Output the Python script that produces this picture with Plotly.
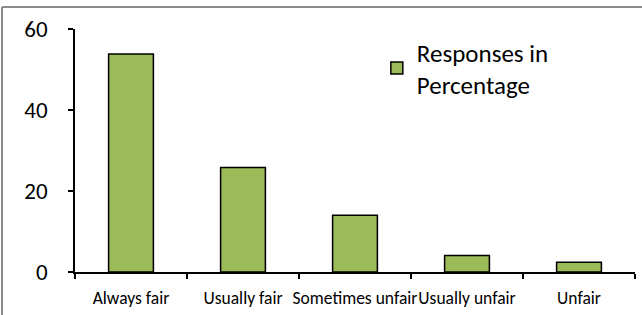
import plotly.graph_objects as go

categories = ["Always fair", "Usually fair", "Sometimes unfair", "Usually unfair", "Unfair"]
values = [53.8, 25.8, 14.0, 4.1, 2.4]
series_name = "Responses in<br>Percentage"
y_ticks = [0, 20, 40, 60]

FONT = "Calibri, Carlito, Lato, sans-serif"

fig = go.Figure()
fig.add_trace(go.Bar(
    x=categories, y=values, name=series_name,
    marker=dict(color="#9BBB59", line=dict(color="black", width=1.5)),
    showlegend=True,
))

fig.update_layout(
    width=642, height=315,
    margin=dict(l=75, r=7, t=29, b=43, autoexpand=False),
    paper_bgcolor="white", plot_bgcolor="white",
    bargap=0.6,
    font=dict(family=FONT, color="black"),
    showlegend=True,
    legend=dict(x=0.539, y=1.0, xanchor="left", yanchor="top",
                font=dict(size=25, family=FONT), bgcolor="rgba(0,0,0,0)",
                itemwidth=30, tracegroupgap=0),
    xaxis=dict(
        type="category", showline=True, linecolor="black", linewidth=1.5,
        ticks="outside", tickson="boundaries", ticklen=5, tickcolor="black",
        tickwidth=1.5, tickangle=0, tickfont=dict(size=17.5, family=FONT),
        showgrid=False, zeroline=False, automargin=False, ticklabelstandoff=9,
    ),
    yaxis=dict(
        range=[0, 60], tickvals=y_ticks, showline=True, linecolor="black",
        linewidth=1.5, ticks="outside", ticklen=5, tickcolor="black", tickwidth=1.5,
        tickfont=dict(size=23, family=FONT), showgrid=False, zeroline=False,
        ticklabelstandoff=16, automargin=False,
    ),
    shapes=[
        dict(type="line", xref="paper", yref="paper",
             x0=(2 - 75) / 560, x1=1.02, y0=(272 - 7) / 243, y1=(272 - 7) / 243,
             line=dict(color="#8c8c8c", width=2)),
        dict(type="line", xref="paper", yref="paper",
             x0=(2 - 75) / 560, x1=(2 - 75) / 560, y0=(272 - 7) / 243, y1=-0.2,
             line=dict(color="#8c8c8c", width=2)),
    ],
)

fig.write_html("out.html", config={"displayModeBar": False},
               post_script="document.body.style.margin='0';document.body.style.overflow='hidden';")
